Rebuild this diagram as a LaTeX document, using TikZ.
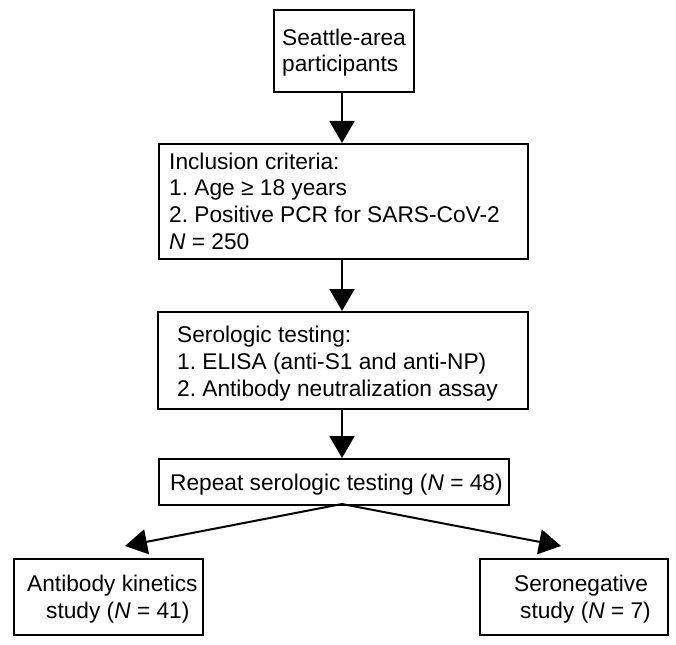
\documentclass[tikz,border=0pt]{standalone}
\usepackage{fontspec}
\setmainfont{Liberation Sans}
\usetikzlibrary{arrows.meta}
\frenchspacing
\begin{document}
\begin{tikzpicture}[x=1pt,y=-1pt,
  box/.style={draw, line width=1.8pt, inner sep=0pt, anchor=north west},
  txt/.style={font=\fontsize{22.7}{26.6}\selectfont\frenchspacing, align=left, inner sep=0pt, anchor=base west},
  arr/.style={line width=2pt, -{Triangle[width=25pt,length=22pt]}}]
\useasboundingbox (0,0) rectangle (676,644);
% boxes
\node[box, minimum width=140pt, minimum height=82pt]  (b1) at (273,9)   {};
\node[box, minimum width=369pt, minimum height=115pt] (b2) at (158,143) {};
\node[box, minimum width=370pt, minimum height=97pt]  (b3) at (157,311) {};
\node[box, minimum width=350pt, minimum height=46pt]  (b4) at (158,458) {};
\node[box, minimum width=189pt, minimum height=76pt]  (b5) at (13,558)  {};
\node[box, minimum width=188pt, minimum height=76pt]  (b6) at (479,558) {};
% texts (anchored at the baseline of the last line)
\node[txt] (t1) at (282,72)  {Seattle-area\\participants};
\node[txt] (t2) at (169,249) {Inclusion criteria:\\1. Age ≥ 18 years\\2. Positive PCR for SARS-CoV-2\\\textit{N} = 250};
\node[txt] (t3) at (177,396) {Serologic testing:\\1. ELISA (anti-S1 and anti-NP)\\2. Antibody neutralization assay};
\node[txt] (t4) at (170,490) {Repeat serologic testing (\textit{N} = 48)};
\node[txt] (t5) at (27,618)  {Antibody kinetics\\\hspace*{19pt}study (\textit{N} = 41)};
\node[txt] (t6) at (514,618) {Seronegative\\\hspace*{6pt}study (\textit{N} = 7)};
% connectors
\coordinate (split) at (342,504);
\coordinate (lt) at (125,546);
\coordinate (rt) at (561,546);
\draw[arr] (b1.south -| split) -- (split |- b2.north);
\draw[arr] (split |- b2.south) -- (split |- b3.north);
\draw[arr] (split |- b3.south) -- (split |- b4.north);
\draw[arr] (split) -- (lt);
\draw[arr] (split) -- (rt);
\end{tikzpicture}
\end{document}
